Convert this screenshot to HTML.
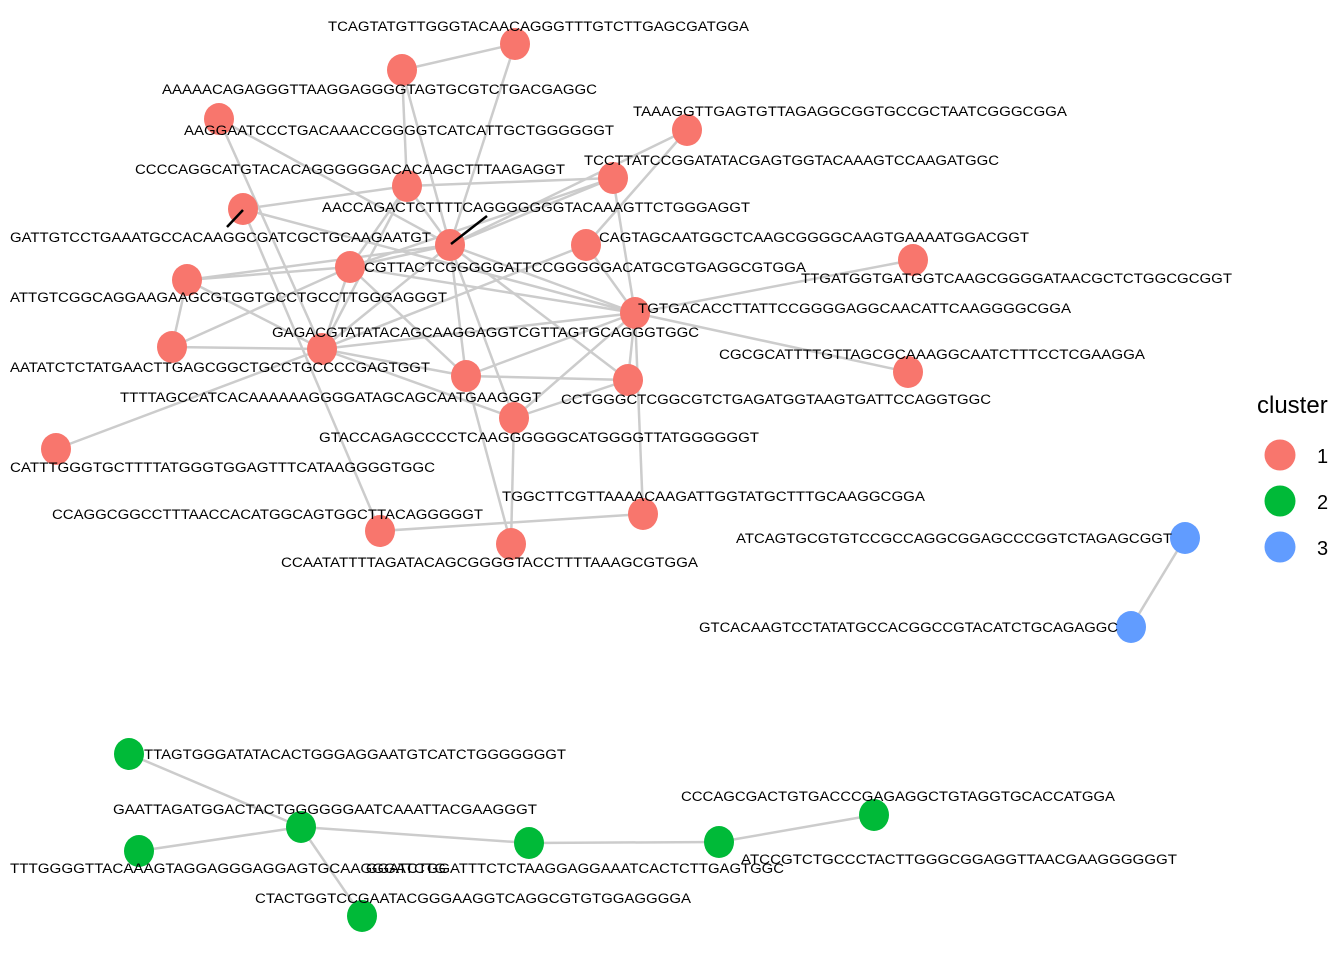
<!DOCTYPE html>
<html><head><meta charset="utf-8"><style>html,body{margin:0;padding:0;background:#fff}svg{display:block}text{font-family:"Liberation Sans",Arial,sans-serif;font-size:13.5px;fill:#000}</style></head><body>
<svg width="1344" height="960" xmlns="http://www.w3.org/2000/svg">
<g stroke="#cccccc" stroke-width="2.5" fill="none">
<!-- red edges -->
<line x1="515" y1="44" x2="402" y2="70"/>
<line x1="515" y1="44" x2="450" y2="245"/>
<line x1="402" y1="70" x2="407" y2="186"/>
<line x1="402" y1="70" x2="450" y2="245"/>
<line x1="219" y1="119" x2="322" y2="349"/>
<line x1="219" y1="119" x2="450" y2="245"/>
<line x1="687" y1="130" x2="450" y2="245"/>
<line x1="687" y1="130" x2="586" y2="245"/>
<line x1="243" y1="209" x2="407" y2="186"/>
<line x1="407" y1="186" x2="613" y2="178"/>
<line x1="407" y1="186" x2="350" y2="267"/>
<line x1="407" y1="186" x2="450" y2="245"/>
<line x1="407" y1="186" x2="322" y2="349"/>
<line x1="613" y1="178" x2="450" y2="245"/>
<line x1="613" y1="178" x2="635" y2="313"/>
<line x1="613" y1="178" x2="350" y2="267"/>
<line x1="243" y1="209" x2="635" y2="313"/>
<line x1="243" y1="209" x2="380" y2="531"/>
<line x1="450" y1="245" x2="350" y2="267"/>
<line x1="450" y1="245" x2="187" y2="280"/>
<line x1="450" y1="245" x2="635" y2="313"/>
<line x1="450" y1="245" x2="466" y2="376"/>
<line x1="450" y1="245" x2="514" y2="418"/>
<line x1="450" y1="245" x2="628" y2="380"/>
<line x1="450" y1="245" x2="322" y2="349"/>
<line x1="586" y1="245" x2="322" y2="349"/>
<line x1="586" y1="245" x2="635" y2="313"/>
<line x1="913" y1="260" x2="635" y2="313"/>
<line x1="350" y1="267" x2="187" y2="280"/>
<line x1="350" y1="267" x2="322" y2="349"/>
<line x1="350" y1="267" x2="635" y2="313"/>
<line x1="350" y1="267" x2="466" y2="376"/>
<line x1="350" y1="267" x2="172" y2="347"/>
<line x1="187" y1="280" x2="172" y2="347"/>
<line x1="187" y1="280" x2="322" y2="349"/>
<line x1="172" y1="347" x2="322" y2="349"/>
<line x1="322" y1="349" x2="56" y2="449"/>
<line x1="322" y1="349" x2="466" y2="376"/>
<line x1="322" y1="349" x2="635" y2="313"/>
<line x1="322" y1="349" x2="514" y2="418"/>
<line x1="635" y1="313" x2="908" y2="372"/>
<line x1="635" y1="313" x2="628" y2="380"/>
<line x1="635" y1="313" x2="514" y2="418"/>
<line x1="635" y1="313" x2="466" y2="376"/>
<line x1="466" y1="376" x2="628" y2="380"/>
<line x1="628" y1="380" x2="514" y2="418"/>
<line x1="514" y1="418" x2="511" y2="544"/>
<line x1="466" y1="376" x2="511" y2="544"/>
<line x1="635" y1="313" x2="643" y2="514"/>
<line x1="643" y1="514" x2="380" y2="531"/>
<!-- blue -->
<line x1="1185" y1="538" x2="1131" y2="627"/>
<!-- green -->
<line x1="129" y1="754" x2="301" y2="827"/>
<line x1="301" y1="827" x2="139" y2="851"/>
<line x1="301" y1="827" x2="529" y2="843"/>
<line x1="301" y1="827" x2="362" y2="916"/>
<line x1="529" y1="843" x2="719" y2="842"/>
<line x1="719" y1="842" x2="874" y2="815"/>
</g>
<g fill="#f8766d">
<ellipse cx="515" cy="44" rx="15" ry="16"/>
<ellipse cx="402" cy="70" rx="15" ry="16"/>
<ellipse cx="219" cy="119" rx="15" ry="16"/>
<ellipse cx="687" cy="130" rx="15" ry="16"/>
<ellipse cx="407" cy="186" rx="15" ry="16"/>
<ellipse cx="613" cy="178" rx="15" ry="16"/>
<ellipse cx="243" cy="209" rx="15" ry="16"/>
<ellipse cx="450" cy="245" rx="15" ry="16"/>
<ellipse cx="586" cy="245" rx="15" ry="16"/>
<ellipse cx="913" cy="260" rx="15" ry="16"/>
<ellipse cx="350" cy="267" rx="15" ry="16"/>
<ellipse cx="187" cy="280" rx="15" ry="16"/>
<ellipse cx="635" cy="313" rx="15" ry="16"/>
<ellipse cx="322" cy="349" rx="15" ry="16"/>
<ellipse cx="172" cy="347" rx="15" ry="16"/>
<ellipse cx="908" cy="372" rx="15" ry="16"/>
<ellipse cx="466" cy="376" rx="15" ry="16"/>
<ellipse cx="628" cy="380" rx="15" ry="16"/>
<ellipse cx="514" cy="418" rx="15" ry="16"/>
<ellipse cx="56" cy="449" rx="15" ry="16"/>
<ellipse cx="643" cy="514" rx="15" ry="16"/>
<ellipse cx="380" cy="531" rx="15" ry="16"/>
<ellipse cx="511" cy="544" rx="15" ry="16"/>
</g>
<g fill="#619cff">
<ellipse cx="1185" cy="538" rx="15" ry="16"/>
<ellipse cx="1131" cy="627" rx="15" ry="16"/>
</g>
<g fill="#00ba38">
<ellipse cx="129" cy="754" rx="15" ry="16"/>
<ellipse cx="301" cy="827" rx="15" ry="16"/>
<ellipse cx="139" cy="851" rx="15" ry="16"/>
<ellipse cx="529" cy="843" rx="15" ry="16"/>
<ellipse cx="719" cy="842" rx="15" ry="16"/>
<ellipse cx="874" cy="815" rx="15" ry="16"/>
<ellipse cx="362" cy="916" rx="15" ry="16"/>
</g>
<g stroke="#000" stroke-width="2.5">
<line x1="243" y1="210" x2="227" y2="227"/>
<line x1="451" y1="244" x2="487" y2="216"/>
</g>
<g>
<text x="328" y="31" textLength="421" lengthAdjust="spacingAndGlyphs">TCAGTATGTTGGGTACAACAGGGTTTGTCTTGAGCGATGGA</text>
<text x="162" y="94" textLength="435" lengthAdjust="spacingAndGlyphs">AAAAACAGAGGGTTAAGGAGGGGTAGTGCGTCTGACGAGGC</text>
<text x="184" y="135" textLength="430" lengthAdjust="spacingAndGlyphs">AAGGAATCCCTGACAAACCGGGGTCATCATTGCTGGGGGGT</text>
<text x="633" y="116" textLength="434" lengthAdjust="spacingAndGlyphs">TAAAGGTTGAGTGTTAGAGGCGGTGCCGCTAATCGGGCGGA</text>
<text x="135" y="174" textLength="430" lengthAdjust="spacingAndGlyphs">CCCCAGGCATGTACACAGGGGGGACACAAGCTTTAAGAGGT</text>
<text x="584" y="165" textLength="415" lengthAdjust="spacingAndGlyphs">TCCTTATCCGGATATACGAGTGGTACAAAGTCCAAGATGGC</text>
<text x="322" y="212" textLength="428" lengthAdjust="spacingAndGlyphs">AACCAGACTCTTTTCAGGGGGGGTACAAAGTTCTGGGAGGT</text>
<text x="10" y="242" textLength="421" lengthAdjust="spacingAndGlyphs">GATTGTCCTGAAATGCCACAAGGCGATCGCTGCAAGAATGT</text>
<text x="599" y="242" textLength="430" lengthAdjust="spacingAndGlyphs">CAGTAGCAATGGCTCAAGCGGGGCAAGTGAAAATGGACGGT</text>
<text x="364" y="272" textLength="442" lengthAdjust="spacingAndGlyphs">CGTTACTCGGGGGATTCCGGGGGACATGCGTGAGGCGTGGA</text>
<text x="801" y="283" textLength="431" lengthAdjust="spacingAndGlyphs">TTGATGGTGATGGTCAAGCGGGGATAACGCTCTGGCGCGGT</text>
<text x="10" y="302" textLength="437" lengthAdjust="spacingAndGlyphs">ATTGTCGGCAGGAAGAAGCGTGGTGCCTGCCTTGGGAGGGT</text>
<text x="638" y="313" textLength="433" lengthAdjust="spacingAndGlyphs">TGTGACACCTTATTCCGGGGAGGCAACATTCAAGGGGCGGA</text>
<text x="272" y="337" textLength="427" lengthAdjust="spacingAndGlyphs">GAGACGTATATACAGCAAGGAGGTCGTTAGTGCAGGGTGGC</text>
<text x="719" y="359" textLength="426" lengthAdjust="spacingAndGlyphs">CGCGCATTTTGTTAGCGCAAAGGCAATCTTTCCTCGAAGGA</text>
<text x="10" y="372" textLength="420" lengthAdjust="spacingAndGlyphs">AATATCTCTATGAACTTGAGCGGCTGCCTGCCCCGAGTGGT</text>
<text x="120" y="402" textLength="421" lengthAdjust="spacingAndGlyphs">TTTTAGCCATCACAAAAAAGGGGATAGCAGCAATGAAGGGT</text>
<text x="561" y="404" textLength="430" lengthAdjust="spacingAndGlyphs">CCTGGGCTCGGCGTCTGAGATGGTAAGTGATTCCAGGTGGC</text>
<text x="319" y="442" textLength="440" lengthAdjust="spacingAndGlyphs">GTACCAGAGCCCCTCAAGGGGGGCATGGGGTTATGGGGGGT</text>
<text x="10" y="472" textLength="425" lengthAdjust="spacingAndGlyphs">CATTTGGGTGCTTTTATGGGTGGAGTTTCATAAGGGGTGGC</text>
<text x="502" y="501" textLength="423" lengthAdjust="spacingAndGlyphs">TGGCTTCGTTAAAACAAGATTGGTATGCTTTGCAAGGCGGA</text>
<text x="52" y="519" textLength="431" lengthAdjust="spacingAndGlyphs">CCAGGCGGCCTTTAACCACATGGCAGTGGCTTACAGGGGGT</text>
<text x="281" y="567" textLength="417" lengthAdjust="spacingAndGlyphs">CCAATATTTTAGATACAGCGGGGTACCTTTTAAAGCGTGGA</text>
<text x="736" y="543" textLength="436" lengthAdjust="spacingAndGlyphs">ATCAGTGCGTGTCCGCCAGGCGGAGCCCGGTCTAGAGCGGT</text>
<text x="699" y="632" textLength="419" lengthAdjust="spacingAndGlyphs">GTCACAAGTCCTATATGCCACGGCCGTACATCTGCAGAGGC</text>
<text x="144" y="759" textLength="422" lengthAdjust="spacingAndGlyphs">TTAGTGGGATATACACTGGGAGGAATGTCATCTGGGGGGGT</text>
<text x="113" y="814" textLength="424" lengthAdjust="spacingAndGlyphs">GAATTAGATGGACTACTGGGGGGAATCAAATTACGAAGGGT</text>
<text x="681" y="801" textLength="434" lengthAdjust="spacingAndGlyphs">CCCAGCGACTGTGACCCGAGAGGCTGTAGGTGCACCATGGA</text>
<text x="10" y="873" textLength="436" lengthAdjust="spacingAndGlyphs">TTTGGGGTTACAAAGTAGGAGGGAGGAGTGCAAGGGATCTG</text>
<text x="366" y="873" textLength="418" lengthAdjust="spacingAndGlyphs">GGATCTGGATTTCTCTAAGGAGGAAATCACTCTTGAGTGGC</text>
<text x="741" y="864" textLength="436" lengthAdjust="spacingAndGlyphs">ATCCGTCTGCCCTACTTGGGCGGAGGTTAACGAAGGGGGGT</text>
<text x="255" y="903" textLength="436" lengthAdjust="spacingAndGlyphs">CTACTGGTCCGAATACGGGAAGGTCAGGCGTGTGGAGGGGA</text>
</g>
<text x="1257" y="413" style="font-size:24px">cluster</text>
<circle cx="1280" cy="455" r="15.5" fill="#f8766d"/>
<circle cx="1280" cy="501" r="15.5" fill="#00ba38"/>
<circle cx="1280" cy="547" r="15.5" fill="#619cff"/>
<text x="1317" y="463" style="font-size:20px">1</text>
<text x="1317" y="509" style="font-size:20px">2</text>
<text x="1317" y="555" style="font-size:20px">3</text>
</svg>
</body></html>
